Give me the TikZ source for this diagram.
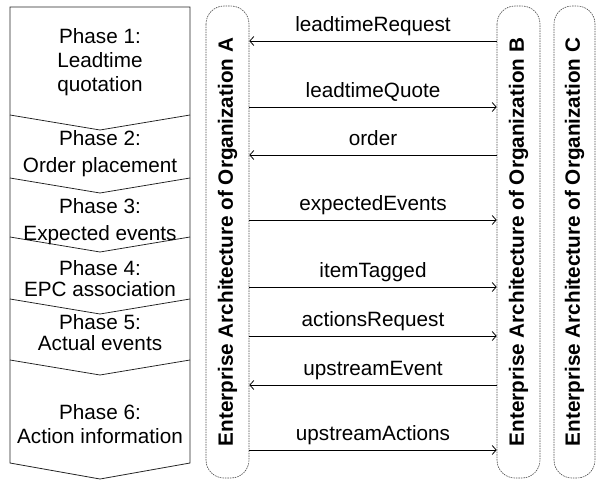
\documentclass[tikz,border=0pt]{standalone}
\usepackage{fontspec}
\setmainfont{Liberation Sans}
\usetikzlibrary{arrows.meta,calc}

\tikzset{
  phasetext/.style={align=center, inner sep=0pt, font=\fontsize{20.7}{25}\selectfont},
  msglabel/.style={anchor=base, inner sep=0pt, font=\fontsize{20.7}{25}\selectfont},
  lane/.style={draw=black!70, dash pattern=on 1.6pt off 0.9pt, line width=0.6pt,
    rounded corners=18pt, rotate=90, minimum width=472pt, inner sep=0pt,
    font=\bfseries\fontsize{20.7}{25}\selectfont},
  msg/.style={line width=0.8pt, -{Straight Barb[length=4pt,width=9pt]}},
  phaseline/.style={line width=0.8pt, black!85},
}

\begin{document}
\begin{tikzpicture}[x=1pt, y=-1pt]
\useasboundingbox (0,0) rectangle (596,480);

% phase column: outline and chevron separators
\draw[phaseline] (10,7) -- (190,7) -- (190,463) -- (100,479) -- (10,463) -- cycle;
\foreach \s in {115,178,237,299,360}
  \draw[phaseline] (10,\s) -- (100,\s+15) -- (190,\s);

\node[phasetext] (p1) at (100,62)  {Phase 1:\\[-1pt]Leadtime\\[-1pt]quotation};
\node[phasetext] (p2) at (100,154) {Phase 2:\\[2pt]Order placement};
\node[phasetext] (p3) at (100,222) {Phase 3:\\[2pt]Expected events};
\node[phasetext] (p4) at (100,279) {Phase 4:\\[-4pt]EPC association};
\node[phasetext] (p5) at (100,333) {Phase 5:\\[-4pt]Actual events};
\node[phasetext] (p6) at (100,424) {Phase 6:\\[-1pt]Action information};

% organisation lanes
\node[lane, minimum height=43pt] (laneA) at (227.5,242) {Enterprise Architecture of Organization A};
\node[lane, minimum height=43pt] (laneB) at (518.5,242) {Enterprise Architecture of Organization B};
\node[lane, minimum height=41pt] (laneC) at (574.5,242) {Enterprise Architecture of Organization C};

% lane edges facing each other (rotated nodes: south is right, north is left)
\coordinate (aR) at (laneA.south);
\coordinate (bL) at (laneB.north);

% messages: y position, direction, label
\foreach \y/\lab/\dir in {41/leadtimeRequest/0, 107/leadtimeQuote/1, 155/order/0,
    220/expectedEvents/1, 287/itemTagged/1, 336/actionsRequest/1,
    385/upstreamEvent/0, 450/upstreamActions/1} {
  \ifnum\dir=1
    \draw[msg] (aR |- 0,\y) -- (bL |- 0,\y);
  \else
    \draw[msg] (bL |- 0,\y) -- (aR |- 0,\y);
  \fi
  \node[msglabel] at ($(aR |- 0,\y)!0.5!(bL |- 0,\y) + (0,-10)$) {\lab};
}
\end{tikzpicture}
\end{document}
